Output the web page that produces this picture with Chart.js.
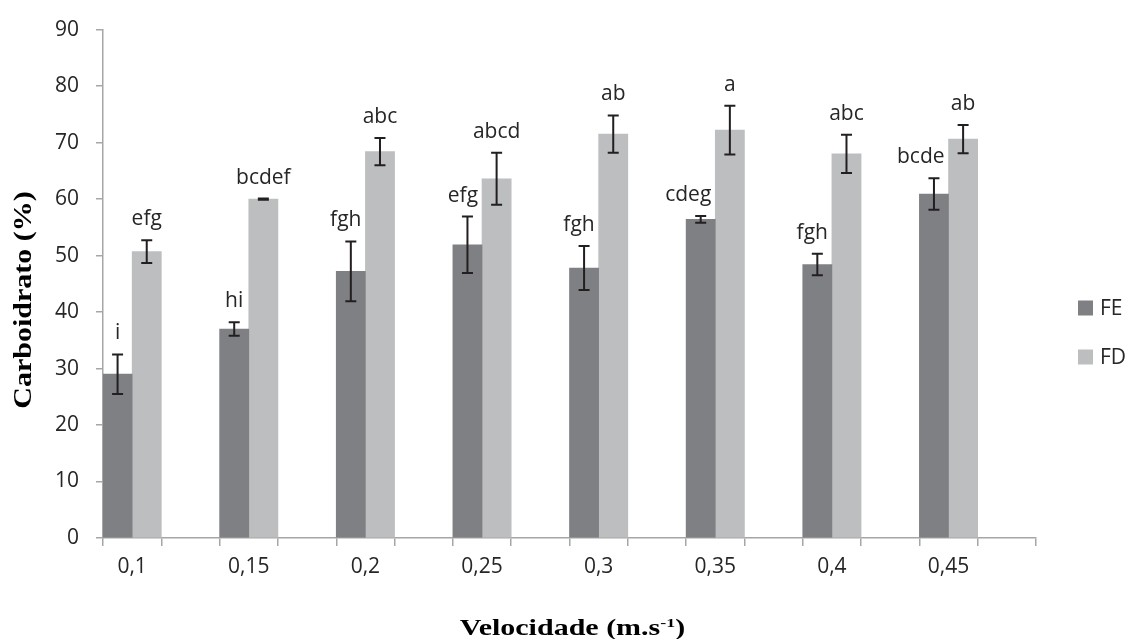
<!DOCTYPE html>
<html>
<head>
<meta charset="utf-8">
<title>Carboidrato por velocidade</title>
<script src="https://cdn.jsdelivr.net/npm/chart.js@4.4.1/dist/chart.umd.min.js"></script>
<style>
  html, body { margin: 0; padding: 0; background: #ffffff; }
  #wrap { position: relative; width: 1132px; height: 639px; }
</style>
</head>
<body>
<div id="wrap"><canvas id="chart"></canvas></div>
<script>
// Velocidade (m.s-1) categories
const categories = ['0,1', '0,15', '0,2', '0,25', '0,3', '0,35', '0,4', '0,45'];

// Carboidrato (%) means and error bar half-widths
const feValues = [29.0, 37.0, 47.2, 51.9, 47.8, 56.4, 48.4, 60.9];
const feErrors = [3.5, 1.2, 5.3, 5.0, 3.9, 0.6, 1.9, 2.8];
const fdValues = [50.7, 60.0, 68.4, 63.6, 71.5, 72.2, 68.0, 70.6];
const fdErrors = [2.0, 0.1, 2.4, 4.6, 3.3, 4.3, 3.4, 2.5];

// Significance letters
const feLetters = ['i', 'hi', 'fgh', 'efg', 'fgh', 'cdeg', 'fgh', 'bcde'];
const fdLetters = ['efg', 'bcdef', 'abc', 'abcd', 'ab', 'a', 'abc', 'ab'];

const yTicks = { min: 0, max: 90, step: 10 };

const SANS = '"Open Sans", "Liberation Sans", sans-serif';
const SERIF = '"Liberation Serif", "DejaVu Serif", serif';
const TEXT = '#262626';
const AXIS = '#a6a6a6';

// Each velocity gets a filled slot followed by an empty spacer slot
function spread(arr, fill) {
  const out = [];
  arr.forEach(v => { out.push(v); out.push(fill); });
  return out;
}

const labels = spread(categories, '');

// Error bars and letters above each bar
const errorBarPlugin = {
  id: 'errorBars',
  afterDatasetsDraw(chart) {
    const ctx = chart.ctx;
    const ys = chart.scales.y;
    ctx.save();
    ctx.font = '21px ' + SANS;
    ctx.fillStyle = TEXT;
    ctx.textBaseline = 'alphabetic';
    chart.data.datasets.forEach((ds, di) => {
      const meta = chart.getDatasetMeta(di);
      meta.data.forEach((bar, i) => {
        const v = ds.data[i];
        if (v == null) return;
        const e = ds.errors[i];
        const yt = ys.getPixelForValue(v + e);
        const yb = ys.getPixelForValue(v - e);
        const x = bar.x;
        ctx.strokeStyle = '#231f20';
        ctx.lineWidth = 2;
        ctx.beginPath();
        ctx.moveTo(x, yt); ctx.lineTo(x, yb);
        ctx.moveTo(x - 5.5, yt); ctx.lineTo(x + 5.5, yt);
        ctx.moveTo(x - 5.5, yb); ctx.lineTo(x + 5.5, yb);
        ctx.stroke();

        const txt = ds.letters[i];
        const w = ctx.measureText(txt).width;
        let cx = x;
        if (ds.letterAlign === 'keepInside') {
          const right = x + bar.width / 2 - 4;
          cx = Math.min(x, right - w / 2);
        }
        ctx.textAlign = 'center';
        ctx.fillText(txt, cx, yt - 15);
      });
    });
    ctx.restore();
  }
};

// Axis titles and legend
const decorPlugin = {
  id: 'decor',
  afterDraw(chart) {
    const ctx = chart.ctx;
    const area = chart.chartArea;
    ctx.save();

    // x title with superscript
    const main = 'Velocidade (m.s';
    const sup = '-1';
    const close = ')';
    ctx.font = 'bold 30px ' + SERIF;
    const wMain = ctx.measureText(main).width;
    const wClose = ctx.measureText(close).width;
    ctx.font = 'bold 18px ' + SERIF;
    const wSup = ctx.measureText(sup).width;
    const total = wMain + wSup + wClose;
    const cx = (area.left + area.right) / 2 + 3;
    ctx.translate(cx - total / 2, 635);
    ctx.scale(1, 0.75);
    ctx.fillStyle = '#000000';
    ctx.textAlign = 'left';
    ctx.textBaseline = 'alphabetic';
    ctx.font = 'bold 30px ' + SERIF;
    ctx.fillText(main, 0, 0);
    ctx.font = 'bold 18px ' + SERIF;
    ctx.fillText(sup, wMain, -11);
    ctx.font = 'bold 30px ' + SERIF;
    ctx.fillText(close, wMain + wSup, 0);
    ctx.restore();

    // y title
    ctx.save();
    ctx.translate(24, 300);
    ctx.rotate(-Math.PI / 2);
    ctx.scale(1, 0.85);
    ctx.fillStyle = '#000000';
    ctx.font = 'bold 30px ' + SERIF;
    ctx.textAlign = 'center';
    ctx.textBaseline = 'middle';
    ctx.fillText('Carboidrato (%)', 0, 0);
    ctx.restore();

    // legend
    ctx.save();
    ctx.font = '21px ' + SANS;
    ctx.textAlign = 'left';
    ctx.textBaseline = 'middle';
    const rows = [308, 357];
    chart.data.datasets.forEach((ds, di) => {
      const yc = rows[di];
      ctx.fillStyle = ds.backgroundColor;
      ctx.fillRect(1078, yc - 7.5, 15, 15);
      ctx.fillStyle = TEXT;
      ctx.fillText(ds.label, 1100, yc + 1);
    });
    ctx.restore();
  }
};

function build() {
  const ctx = document.getElementById('chart');
  new Chart(ctx, {
    type: 'bar',
    data: {
      labels: labels,
      datasets: [
        {
          label: 'FE',
          data: spread(feValues, null),
          errors: spread(feErrors, null),
          letters: spread(feLetters, ''),
          letterAlign: 'keepInside',
          backgroundColor: '#7f8084',
          borderWidth: 0,
          categoryPercentage: 1,
          barPercentage: 1
        },
        {
          label: 'FD',
          data: spread(fdValues, null),
          errors: spread(fdErrors, null),
          letters: spread(fdLetters, ''),
          letterAlign: 'center',
          backgroundColor: '#bdbec0',
          borderWidth: 0,
          categoryPercentage: 1,
          barPercentage: 1
        }
      ]
    },
    options: {
      responsive: true,
      maintainAspectRatio: false,
      animation: false,
      layout: { padding: { left: 0, right: 96, top: 22, bottom: 0 } },
      plugins: {
        legend: { display: false },
        tooltip: { enabled: false }
      },
      scales: {
        x: {
          grid: {
            display: true,
            drawOnChartArea: false,
            drawTicks: true,
            tickLength: 8,
            offset: true,
            color: AXIS,
            lineWidth: 1.5
          },
          border: { color: AXIS, width: 1.5 },
          ticks: {
            autoSkip: false,
            maxRotation: 0,
            minRotation: 0,
            padding: 8,
            color: TEXT,
            font: { family: SANS, size: 21 }
          },
          afterFit(s) { s.height = 101; }
        },
        y: {
          min: yTicks.min,
          max: yTicks.max,
          grid: {
            display: true,
            drawOnChartArea: false,
            drawTicks: true,
            tickLength: 7,
            color: AXIS,
            lineWidth: 1.5
          },
          border: { color: AXIS, width: 1.5 },
          ticks: {
            stepSize: yTicks.step,
            padding: 17,
            color: TEXT,
            font: { family: SANS, size: 21 }
          },
          afterFit(s) { s.width = 103; }
        }
      }
    },
    plugins: [errorBarPlugin, decorPlugin]
  });
}

const fontLoads = [
  '21px "Open Sans"',
  'bold 30px "Liberation Serif"'
].map(f => document.fonts ? document.fonts.load(f) : Promise.resolve());
Promise.all(fontLoads).then(build, build);
</script>
</body>
</html>
